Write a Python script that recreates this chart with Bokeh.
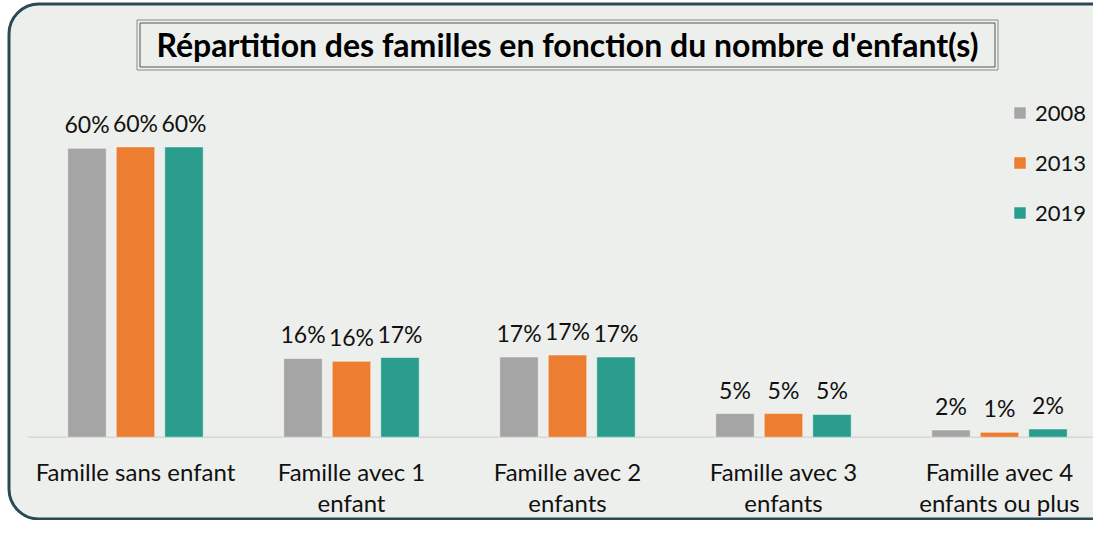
from bokeh.plotting import figure
from bokeh.models import ColumnDataSource, Range1d, BoxAnnotation, Label, Legend, LegendItem
from bokeh.transform import dodge
from bokeh.core.properties import value
from bokeh.embed import file_html
from bokeh.resources import INLINE

# ---- data ----
categories = ["Famille sans enfant", "Famille avec 1\nenfant", "Famille avec 2\nenfants",
              "Famille avec 3\nenfants", "Famille avec 4\nenfants ou plus"]
years = ["2008", "2013", "2019"]
v2008 = [59.8, 16.3, 16.6, 4.9, 1.5]
v2013 = [60.1, 15.7, 17.0, 4.9, 1.0]
v2019 = [60.1, 16.5, 16.6, 4.7, 1.7]
l2008 = ["60%", "16%", "17%", "5%", "2%"]
l2013 = ["60%", "16%", "17%", "5%", "1%"]
l2019 = ["60%", "17%", "17%", "5%", "2%"]
title_text = "Répartition des familles en fonction du nombre d'enfant(s)"

colors = ["#A5A5A5", "#ED7D31", "#2A9D8F"]
BG = "#EDEFEC"
FONT = "Lato"

W, H = 1093, 520
CAT_PX = 216.0
FIRST_CENTER = 135.0
BASE_Y = 436.7
PX_PER_UNIT = 4.83

p = figure(width=W, height=H, output_backend="svg", toolbar_location=None,
           x_axis_type=None, y_axis_type=None,
           x_range=Range1d(-FIRST_CENTER / CAT_PX, (W - FIRST_CENTER) / CAT_PX),
           y_range=Range1d(-(H - BASE_Y) / PX_PER_UNIT, BASE_Y / PX_PER_UNIT),
           min_border=0, min_border_left=0, min_border_right=0,
           min_border_top=0, min_border_bottom=0)
p.background_fill_color = "white"
p.border_fill_color = "white"
p.outline_line_color = None
p.grid.visible = False

# rounded chart area
p.add_layout(BoxAnnotation(left=8.5, right=W + 60, top=H - 3.5, bottom=1.5,
                           left_units="screen", right_units="screen",
                           top_units="screen", bottom_units="screen",
                           fill_color=BG, fill_alpha=1.0,
                           line_color="#2B4957", line_alpha=1.0, line_width=3,
                           border_radius=30, level="underlay"))

idx = list(range(len(categories)))
offsets = [-0.2245, 0.0, 0.2245]
vals = [v2008, v2013, v2019]
labs = [l2008, l2013, l2019]

# axis line
p.segment(x0=[-0.5], y0=[0], x1=[len(categories) - 0.5], y1=[0],
          line_color="#D6D8D5", line_width=1.5)

renderers = []
for year, vv, ll, off, col in zip(years, vals, labs, offsets, colors):
    src = ColumnDataSource(dict(idx=idx, v=vv, lab=ll))
    r = p.vbar(x=dodge("idx", off), top="v", bottom=0, width=0.178, source=src,
               fill_color=col, line_color="white", line_alpha=0.45, line_width=1)
    renderers.append((year, r))
    p.text(x=dodge("idx", off), y="v", text="lab", source=src,
           text_align="center", text_baseline="alphabetic", y_offset=-24,
           text_font=value(FONT), text_font_size="23px", text_color="#111111")

# category labels
csrc = ColumnDataSource(dict(idx=idx, cat=categories, zero=[0] * len(idx)))
p.text(x="idx", y="zero", text="cat", source=csrc, text_align="center",
       text_baseline="top", y_offset=20, text_line_height=1.05,
       text_font=value(FONT), text_font_size="24px", text_color="#111111")

# legend
legend = Legend(items=[LegendItem(label=y, renderers=[r]) for y, r in renderers],
                location=(1012, 294), orientation="vertical",
                label_text_font=FONT, label_text_font_size="22px", label_text_color="#111111",
                glyph_width=15, glyph_height=15, label_height=22, spacing=23,
                label_standoff=8, padding=0, margin=0,
                border_line_alpha=0, background_fill_alpha=0)
p.add_layout(legend)

# title box
p.add_layout(BoxAnnotation(left=136.5, right=997.5, top=H - 19.5, bottom=H - 69.5,
                           left_units="screen", right_units="screen",
                           top_units="screen", bottom_units="screen",
                           fill_alpha=0, line_color="#8A8A8A", line_alpha=1.0, line_width=1))
p.add_layout(BoxAnnotation(left=139.5, right=994.5, top=H - 22.5, bottom=H - 66.5,
                           left_units="screen", right_units="screen",
                           top_units="screen", bottom_units="screen",
                           fill_alpha=0, line_color="#555555", line_alpha=1.0, line_width=1))
p.add_layout(Label(x=567, y=H - 44, x_units="screen", y_units="screen",
                   text=title_text, text_align="center", text_baseline="middle",
                   text_font=FONT, text_font_style="bold", text_font_size="32px",
                   text_color="#000000"))

open("out.html", "w").write(file_html(p, INLINE))
